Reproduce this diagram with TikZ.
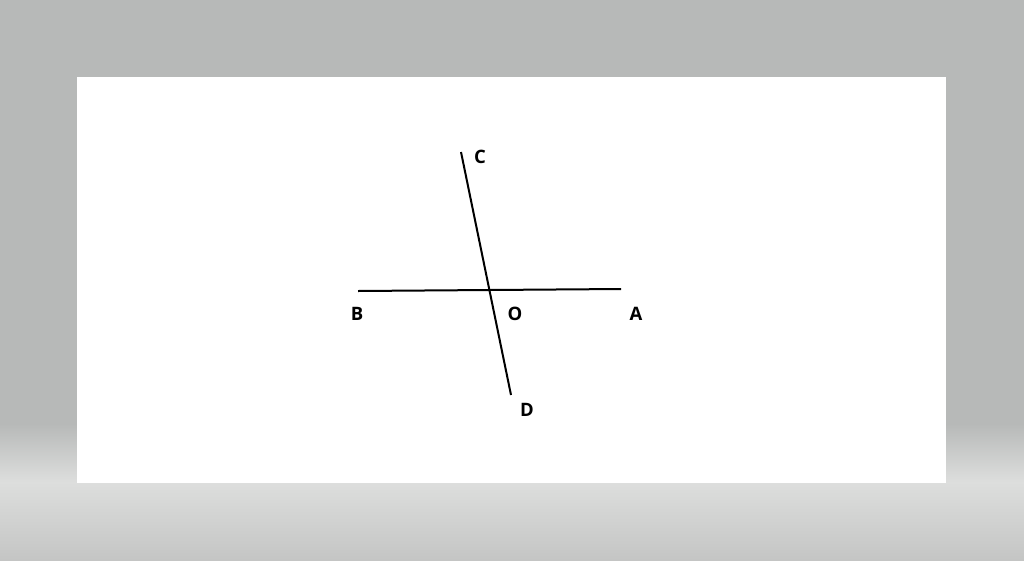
\documentclass[tikz,border=0pt]{standalone}
\usepackage{fontspec}
\setmainfont{Open Sans}
\definecolor{bgtop}{RGB}{183,185,184}
\definecolor{bgmid}{RGB}{184,186,185}
\definecolor{bglight}{RGB}{221,222,221}
\definecolor{bgbot}{RGB}{196,197,196}
\begin{document}
\begin{tikzpicture}[x=1pt,y=-1pt,
  lbl/.style={font=\fontsize{18.5}{22}\selectfont\bfseries, inner sep=0pt},
  seg/.style={line width=2pt, black}]
\useasboundingbox (0,0) rectangle (1024,560);
\fill[bgtop] (0,0) rectangle (1024,425);
\shade[top color=bgmid, bottom color=bglight] (0,425) rectangle (1024,482);
\shade[top color=bglight, bottom color=bgbot] (0,482) rectangle (1024,560.5);
\fill[white] (77,77) rectangle (946,483);
\coordinate (B) at (358,291);
\coordinate (A) at (621,289);
\coordinate (C) at (461,152);
\coordinate (D) at (511,395);
\draw[seg] (B) -- (A);
\draw[seg] (C) -- (D);
\node[lbl] (lC) at (480,157) {C};
\node[lbl] (lB) at (357,314) {B};
\node[lbl] (lO) at (515,314) {O};
\node[lbl] (lA) at (636,314) {A};
\node[lbl] (lD) at (527,410) {D};
\end{tikzpicture}
\end{document}
